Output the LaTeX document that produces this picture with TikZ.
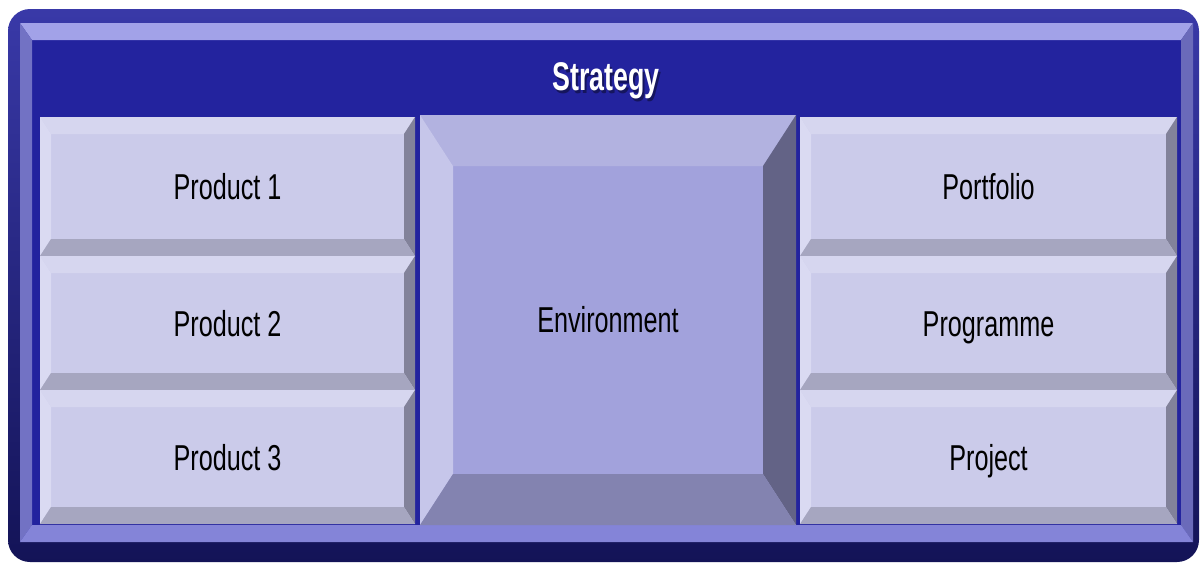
\documentclass[tikz,border=0pt]{standalone}
\usepackage{fontspec}
\usepackage{tikz}
\newfontfamily\narrowsans[FakeStretch=0.7]{Liberation Sans}
\newfontfamily\narrowtitle[FakeStretch=0.67]{Liberation Sans}
% colours of the bevelled panels
\definecolor{frmface}{HTML}{23239E}
\definecolor{frmtop}{HTML}{A2A2E8}
\definecolor{frmleft}{HTML}{7272C4}
\definecolor{frmright}{HTML}{6A6ABA}
\definecolor{frmbot}{HTML}{8484D8}
\definecolor{blkface}{HTML}{CBCBEA}
\definecolor{blktop}{HTML}{D6D6EF}
\definecolor{blkleft}{HTML}{DADAF2}
\definecolor{blkright}{HTML}{82829A}
\definecolor{blkbot}{HTML}{A6A6C0}
\definecolor{envface}{HTML}{A2A2DC}
\definecolor{envtop}{HTML}{B2B2E0}
\definecolor{envleft}{HTML}{C6C6EA}
\definecolor{envright}{HTML}{636386}
\definecolor{envbot}{HTML}{8383B0}
% #1,#2 top left, #3,#4 bottom right, #5 side bevel, #6 top/bottom bevel, #7 colour prefix
\newcommand{\bevelbox}[7]{%
  \fill[#7face] (#1,#2) rectangle (#3,#4);
  \fill[#7top] (#1,#2) -- (#3,#2) -- (#3-#5,#2+#6) -- (#1+#5,#2+#6) -- cycle;
  \fill[#7left] (#1,#2) -- (#1+#5,#2+#6) -- (#1+#5,#4-#6) -- (#1,#4) -- cycle;
  \fill[#7right] (#3,#2) -- (#3-#5,#2+#6) -- (#3-#5,#4-#6) -- (#3,#4) -- cycle;
  \fill[#7bot] (#1,#4) -- (#1+#5,#4-#6) -- (#3-#5,#4-#6) -- (#3,#4) -- cycle;
}

\begin{document}
\begin{tikzpicture}[x=0.5pt, y=-0.5pt,
  lbl/.style={font=\narrowsans\fontsize{18}{20}\selectfont, text=black, inner sep=0pt, anchor=base},
  ttl/.style={font=\narrowtitle\bfseries\fontsize{20}{22}\selectfont, inner sep=0pt, anchor=base}]
  \useasboundingbox (0,0) rectangle (1203,564);
  % outer rounded plate and its bevelled frame
  \shade[top color=frmface!90!white, middle color=frmface, bottom color=frmface!55!black, rounded corners=11pt] (8,9) rectangle (1199,562);
  \bevelbox{20}{23}{1193}{542}{12}{17}{frm}
  % title
  \node[ttl, text=black, opacity=0.4] (titleshadow) at (608,93) {Strategy};
  \node[ttl, text=white] (title) at (606,90) {Strategy};
  % left column
  \bevelbox{40}{117}{415}{256}{11}{17}{blk}
  \bevelbox{40}{256}{415}{390}{11}{17}{blk}
  \bevelbox{40}{390}{415}{524}{11}{17}{blk}
  \node[lbl] (prod1) at (227.5,199) {Product 1};
  \node[lbl] (prod2) at (227.5,336) {Product 2};
  \node[lbl] (prod3) at (227.5,470) {Product 3};
  % centre
  \bevelbox{420}{115}{796}{525}{33}{51}{env}
  \node[lbl] (env) at (608,332) {Environment};
  % right column
  \bevelbox{800}{117}{1177}{256}{11}{17}{blk}
  \bevelbox{800}{256}{1177}{390}{11}{17}{blk}
  \bevelbox{800}{390}{1177}{524}{11}{17}{blk}
  \node[lbl] (portf) at (988.5,199) {Portfolio};
  \node[lbl] (progr) at (988.5,336) {Programme};
  \node[lbl] (proj) at (988.5,470) {Project};
\end{tikzpicture}
\end{document}
